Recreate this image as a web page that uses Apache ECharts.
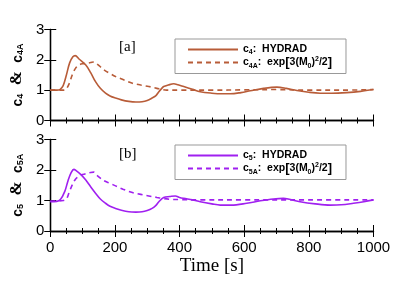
<!DOCTYPE html>
<html><head><meta charset="utf-8">
<script src="https://cdn.jsdelivr.net/npm/echarts@6/dist/echarts.min.js"></script>
<style>html,body{margin:0;padding:0;background:#fff}#c{width:415px;height:297px}</style>
</head><body><div id="c"></div>
<script>
// ---- data ----
const tC4 = [0,20,30,40,50,60,70,77,90,110,125,140,155,171,185,202,220,243,265,284,300,315,327,336,345,351,365,382,395,413,440,464,500,530,557,590,619,660,701,730,763,800,835,870,917,960,1000];
const vC4 = [1.00,1.00,1.02,1.15,1.50,1.90,2.10,2.14,2.02,1.83,1.58,1.28,1.06,0.90,0.81,0.74,0.68,0.63,0.61,0.62,0.66,0.74,0.82,0.95,1.06,1.12,1.17,1.21,1.18,1.12,1.03,0.95,0.90,0.88,0.88,0.92,0.98,1.06,1.10,1.06,0.99,0.93,0.90,0.90,0.92,0.96,1.02];
const tC4A = [0,40,48,58,68,78,89,100,110,125,135,140,152,166,185,202,225,254,280,305,330,346,360,400,500,600,700,800,900,1000];
const vC4A = [1.00,1.00,1.02,1.20,1.50,1.72,1.83,1.87,1.88,1.91,1.93,1.90,1.80,1.67,1.55,1.45,1.35,1.23,1.17,1.12,1.06,1.02,1.00,1.00,1.00,1.01,1.02,1.00,1.00,1.02];
const tC5 = [0,20,32,45,55,65,73,80,95,110,125,140,155,171,185,202,220,243,265,284,300,315,327,336,351,370,387,400,413,440,464,500,526,560,608,650,690,721,740,773,820,866,900,938,970,1000];
const vC5 = [0.96,0.97,1.04,1.30,1.65,1.92,2.02,1.98,1.85,1.67,1.45,1.24,1.05,0.91,0.81,0.74,0.68,0.63,0.62,0.63,0.67,0.74,0.84,0.96,1.10,1.13,1.15,1.10,1.07,1.02,0.96,0.89,0.85,0.85,0.91,0.99,1.05,1.07,1.04,0.96,0.89,0.85,0.86,0.91,0.96,1.02];
const tC5A = [0,40,50,58,68,78,89,100,125,135,140,152,166,185,202,225,254,280,305,330,346,370,400,450,600,800,1000];
const vC5A = [0.98,1.00,1.05,1.25,1.51,1.70,1.80,1.85,1.92,1.93,1.87,1.76,1.65,1.56,1.48,1.37,1.26,1.20,1.15,1.10,1.07,1.04,1.03,1.02,1.02,1.02,1.02];
const xTicks = [0,200,400,600,800,1000];
const yTicks = [0,1,2,3];
const panelLabels = ['[a]','[b]'];

const brown = '#B85C38', purple = '#A020F0';
const pair = (t, v) => t.map((x, i) => [x, v[i]]);

const tickFont = {fontFamily:'Liberation Sans', fontSize:15, color:'#000'};
const axisLine = {show:true, lineStyle:{color:'#000', width:1.3}};
function xAx(grid, pos, labels, name) {
  return {type:'value', gridIndex:grid, position:pos, min:xTicks[0], max:xTicks[xTicks.length-1], interval:xTicks[1]-xTicks[0],
    axisLine:axisLine, splitLine:{show:false},
    axisTick:{show:true, inside:true, length:6, lineStyle:{color:'#000'}},
    minorTick:{show:true, splitNumber:4, length:3, lineStyle:{color:'#000'}},
    axisLabel:Object.assign({show:labels, margin:9, formatter: v => String(v)}, tickFont),
    name:name||'', nameLocation:'middle', nameGap:26,
    nameTextStyle:{fontFamily:'Liberation Serif', fontSize:19, color:'#000'}};
}
function yAx(grid, pos, labels, name) {
  return {type:'value', gridIndex:grid, position:pos, min:yTicks[0], max:yTicks[yTicks.length-1], interval:1,
    axisLine:axisLine, splitLine:{show:false},
    axisTick:{show:true, inside:true, length:6, lineStyle:{color:'#000'}},
    axisLabel:Object.assign({show:labels, margin:6, formatter: v => String(v)}, tickFont),
    name:name||'', nameLocation:'middle', nameGap:22, nameRotate:90,
    nameTextStyle:{color:'#000', rich:{
      c:{fontFamily:'Liberation Sans', fontWeight:'bold', fontSize:14, verticalAlign:'bottom', lineHeight:18},
      s:{fontFamily:'Liberation Sans', fontWeight:'bold', fontSize:9, verticalAlign:'bottom', lineHeight:14},
      a:{fontFamily:'Liberation Serif', fontWeight:'bold', fontSize:17, verticalAlign:'bottom', lineHeight:18}
    }}};
}
const legRich = {
  b:{fontFamily:'Liberation Sans', fontWeight:'bold', fontSize:10.5, color:'#000', verticalAlign:'middle', lineHeight:12},
  s:{fontFamily:'Liberation Sans', fontWeight:'bold', fontSize:7, color:'#000', verticalAlign:'bottom', lineHeight:10},
  p:{fontFamily:'Liberation Sans', fontWeight:'bold', fontSize:7, color:'#000', verticalAlign:'top', lineHeight:14},
  e:{fontFamily:'Liberation Sans', fontWeight:'bold', fontSize:13, color:'#000', verticalAlign:'middle', lineHeight:12}
};
function legend(top, names, subs) {
  return {top:top, left:175, orient:'vertical', data:names, itemWidth:50, itemHeight:9, itemGap:0,
    borderColor:'#999', borderWidth:1, padding:[5,14,4,12],
    itemStyle:{opacity:0},
    textStyle:{rich:legRich},
    formatter: n => n === names[0]
      ? '{b|c}{s|' + subs[0] + '}{b|:  HYDRAD}'
      : '{b|c}{s|' + subs[1] + '}{b|:  exp}{e|[}{b|3(M}{s|0}{b|)}{p|2}{b|/2}{e|]}'};
}
function series(name, data, color, dashed, xi, yi) {
  return {type:'line', name:name, data:data, xAxisIndex:xi, yAxisIndex:yi, showSymbol:false, symbol:'none',
    smooth:0.35, lineStyle:{color:color, width:1.6, type: dashed ? [5,4] : 'solid'}, itemStyle:{color:color}};
}

const chart = echarts.init(document.getElementById('c'), null, {renderer:'canvas'});
chart.setOption({
  animation:false,
  grid:[{left:49.5, right:41.5, top:29.5, height:91},
        {left:49.5, right:41.5, top:139.5, height:91.5}],
  xAxis:[xAx(0,'bottom',false), xAx(0,'top',false), xAx(1,'bottom',true,'Time [s]'), xAx(1,'top',false)],
  yAxis:[yAx(0,'left',true,'{c|c}{s|4}{a|  &  }{c|c}{s|4A}'), yAx(0,'right',false),
         yAx(1,'left',true,'{c|c}{s|5}{a|  &  }{c|c}{s|5A}'), yAx(1,'right',false)],
  legend:[legend(39, ['c4','c4A'], ['4','4A']), legend(145, ['c5','c5A'], ['5','5A'])],
  graphic:[
    {type:'text', left:119, top:40, style:{text:panelLabels[0], font:'15px "Liberation Serif"', fill:'#000'}},
    {type:'text', left:119, top:147, style:{text:panelLabels[1], font:'15px "Liberation Serif"', fill:'#000'}}
  ],
  series:[
    series('c4', pair(tC4, vC4), brown, false, 0, 0),
    series('c4A', pair(tC4A, vC4A), brown, true, 0, 0),
    series('c5', pair(tC5, vC5), purple, false, 2, 2),
    series('c5A', pair(tC5A, vC5A), purple, true, 2, 2)
  ]
});
</script></body></html>
